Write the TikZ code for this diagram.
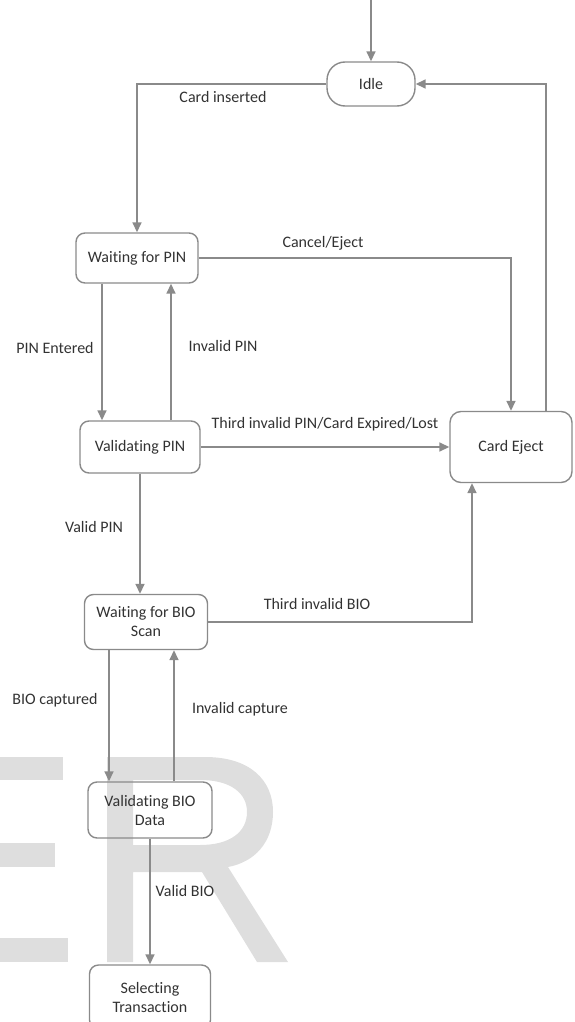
\documentclass[tikz,border=0pt]{standalone}
\usepackage{fontspec}
\setmainfont{Carlito}[Ligatures={NoCommon}]
\usepackage{xcolor}
\usepackage{tikz}
\usetikzlibrary{arrows.meta, positioning, calc}
\definecolor{linegray}{RGB}{138,138,138}
\definecolor{textgray}{RGB}{50,50,50}
\definecolor{markgray}{RGB}{222,222,222}

\begin{document}
\begin{tikzpicture}[x=1pt, y=-1pt, >={Triangle[length=10pt, width=9pt]}, line width=1.6pt,
    state/.style={draw=linegray, line width=1.4pt, rounded corners=9pt, align=center,
        text=textgray, font=\fontsize{16}{19}\selectfont, inner sep=0pt},
    lbl/.style={text=textgray, font=\fontsize{16}{18}\selectfont, inner sep=0pt},
    link/.style={->, draw=linegray}]
        \useasboundingbox (0,0) rectangle (574,1022);
        \clip (0,0) rectangle (574,1022);
        % Watermark
        \fill [markgray] (0,757) rectangle (63,780);
        \fill [markgray] (0,843) rectangle (55,867);
        \fill [markgray] (0,938) rectangle (68,962);
        \fill [markgray, even odd rule] (107,757) -- (205,757)
            .. controls (250,757) and (273,780) .. (273,812)
            .. controls (273,842) and (255,862) .. (228,867)
            -- (288,962) -- (257,962) -- (202,872) -- (133,872) -- (133,962) -- (107,962) -- cycle
            (133,780) -- (200,780) .. controls (232,780) and (247,794) .. (247,812)
            .. controls (247,832) and (230,845) .. (200,845) -- (133,845) -- cycle;
        % States
        \node [state, rounded corners=18pt, minimum width=88pt, minimum height=44pt] (idle) at (371,84) {Idle};
        \node [state, minimum width=122pt, minimum height=50pt] (waitpin) at (137,258) {Waiting for PIN};
        \node [state, minimum width=120pt, minimum height=52pt] (valpin) at (140,447) {Validating PIN};
        \node [state, rounded corners=11pt, minimum width=122pt, minimum height=71pt] (eject) at (511,447) {Card Eject};
        \node [state, minimum width=123pt, minimum height=55pt] (waitbio) at (146,622) {Waiting for BIO\\Scan};
        \node [state, minimum width=124pt, minimum height=56pt] (valbio) at (150,810) {Validating BIO\\Data};
        \node [state, minimum width=121pt, minimum height=64pt] (select) at (150,997) {Selecting\\Transaction};
        % Transitions
        \coordinate (start) at (371,0);
        \draw [link] (start) -- (idle.north);
        \draw [link] (idle.west) -| (waitpin.north);
        \draw [link] (waitpin.east) -| (eject.north);
        \draw [link] ([xshift=35pt]eject.north) |- (idle.east);
        \draw [link] ([xshift=-35pt]waitpin.south) -- ([xshift=-35pt]waitpin.south |- valpin.north);
        \draw [link] ([xshift=31pt]valpin.north) -- ([xshift=31pt]valpin.north |- waitpin.south);
        \draw [link] (valpin.east) -- (eject.west);
        \draw [link] (valpin.south) -- (valpin.south |- waitbio.north);
        \draw [link] (waitbio.east) -| ([xshift=-39pt]eject.south);
        \draw [link] ([xshift=-37pt]waitbio.south) -- ([xshift=-37pt]waitbio.south |- valbio.north);
        \draw [link] ([xshift=24pt]valbio.north) -- ([xshift=24pt]valbio.north |- waitbio.south);
        \draw [link] (valbio.south) -- (select.north);
        % Labels
        \node [lbl] (lcard) at (223,97) {Card inserted};
        \node [lbl] (lcancel) at (323,243) {Cancel/Eject};
        \node [lbl] (lentered) at (55,348) {PIN Entered};
        \node [lbl] (linvpin) at (223,346) {Invalid PIN};
        \node [lbl] (lthird) at (325,424) {Third invalid PIN/Card Expired/Lost};
        \node [lbl] (lvalpin) at (94,527) {Valid PIN};
        \node [lbl] (lthirdbio) at (317,604) {Third invalid BIO};
        \node [lbl] (lcaptured) at (55,700) {BIO captured};
        \node [lbl] (linvcap) at (240,709) {Invalid capture};
        \node [lbl] (lvalbio) at (185,891) {Valid BIO};
\end{tikzpicture}
\end{document}
